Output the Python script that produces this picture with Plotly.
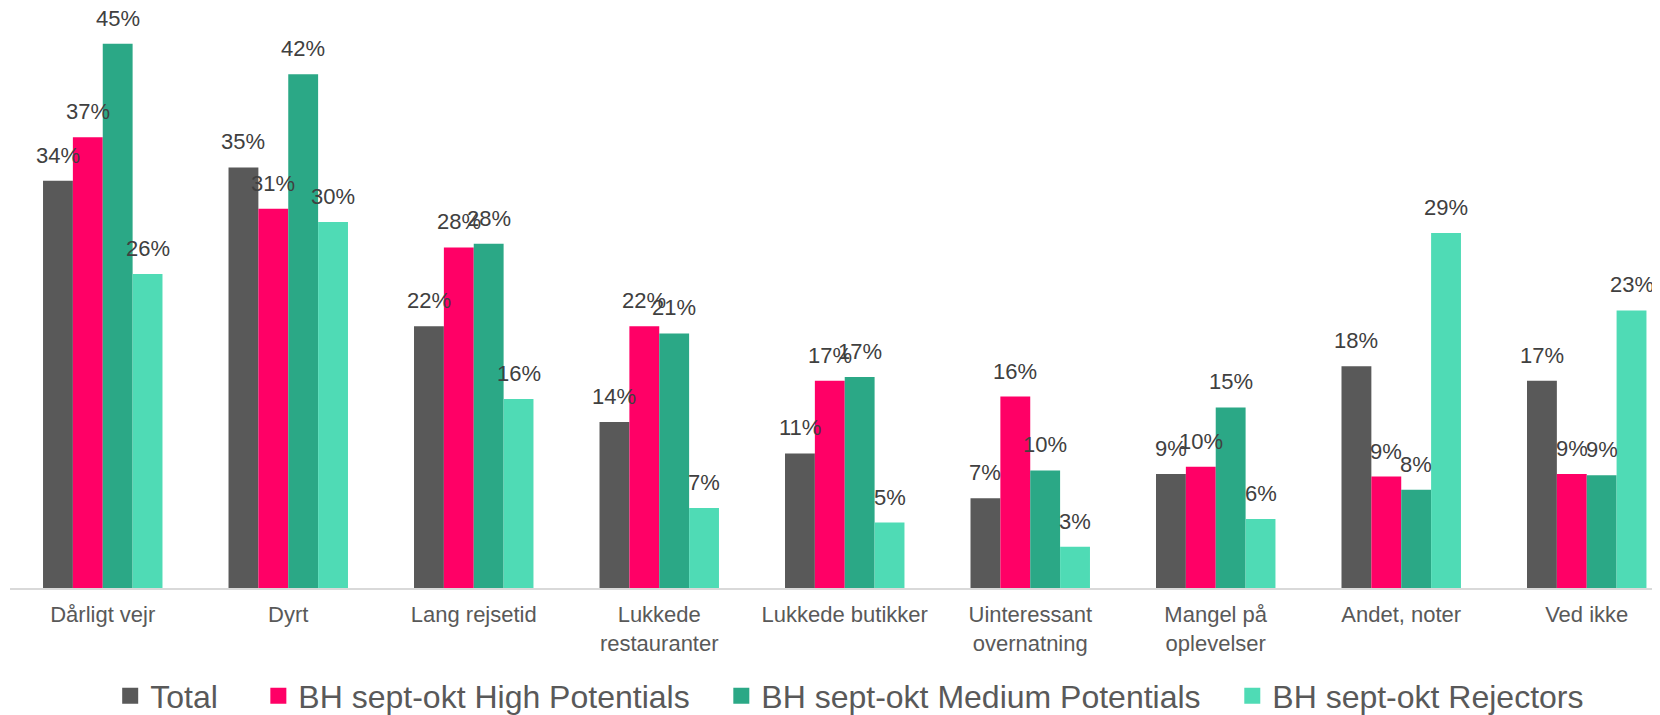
import plotly.graph_objects as go

categories = ["Dårligt vejr", "Dyrt", "Lang rejsetid", "Lukkede<br>restauranter",
              "Lukkede butikker", "Uinteressant<br>overnatning", "Mangel på<br>oplevelser",
              "Andet, noter", "Ved ikke"]

total = [33.6, 34.7, 21.6, 13.7, 11.1, 7.4, 9.4, 18.3, 17.1]
high_potentials = [37.2, 31.3, 28.1, 21.6, 17.1, 15.8, 10.0, 9.2, 9.4]
medium_potentials = [44.9, 42.4, 28.4, 21.0, 17.4, 9.7, 14.9, 8.1, 9.3]
rejectors = [25.9, 30.2, 15.6, 6.6, 5.4, 3.4, 5.7, 29.3, 22.9]

series_names = ["Total", "BH sept-okt High Potentials",
                "BH sept-okt Medium Potentials", "BH sept-okt Rejectors"]
colors = ["#595959", "#FF0066", "#2BA886", "#4FDBB5"]
legend_pad = [4, 3, 3, 0]  # trailing spaces between legend entries

FONT = "Liberation Sans, Arial, sans-serif"
BARGAP = 0.356

fig = go.Figure()
all_series = [total, high_potentials, medium_potentials, rejectors]

for name, vals, col, pad in zip(series_names, all_series, colors, legend_pad):
    fig.add_trace(go.Bar(
        x=list(range(len(categories))),
        y=vals,
        name=name,
        marker=dict(color=col, line=dict(width=0)),
        showlegend=False,
    ))
    # legend entry with a bigger square swatch
    fig.add_trace(go.Scatter(
        x=[None], y=[None], mode="markers", name=name + "\u00a0" * pad,
        marker=dict(symbol="square", size=16, color=col),
    ))

# value labels above the bars (Excel style, allowed to overlap)
n = len(all_series)
bar_w = (1 - BARGAP) / n
for k, vals in enumerate(all_series):
    off = -(1 - BARGAP) / 2 + bar_w * (k + 0.5)
    for i, v in enumerate(vals):
        fig.add_annotation(
            x=i + off, y=v, text=f"{v:.0f}%", showarrow=False,
            yanchor="bottom", yshift=11,
            font=dict(family=FONT, size=22, color="#404040"),
        )

# page body has an 8px margin, so the figure is 8px smaller than the window
fig.update_layout(
    width=1652, height=707,
    margin=dict(l=2, r=0, t=7, b=127),
    barmode="group", bargap=BARGAP, bargroupgap=0,
    plot_bgcolor="white", paper_bgcolor="white",
    font=dict(family=FONT, color="#595959"),
    xaxis=dict(
        tickmode="array", tickvals=list(range(len(categories))), ticktext=categories,
        range=[-0.5, 8.395], showgrid=False, zeroline=False, automargin=False,
        showline=True, linecolor="#D9D9D9", linewidth=2,
        ticks="", ticklabelstandoff=6,
        tickfont=dict(family=FONT, size=22, color="#595959"),
    ),
    yaxis=dict(range=[0, 47.28], visible=False, showgrid=False, zeroline=False,
               automargin=False),
    legend=dict(
        orientation="h", xref="container", x=0.5095, xanchor="center",
        yref="container", y=0.027, yanchor="middle",
        font=dict(family=FONT, size=32, color="#595959"),
        itemsizing="trace",
    ),
)

fig.write_html("out.html")
